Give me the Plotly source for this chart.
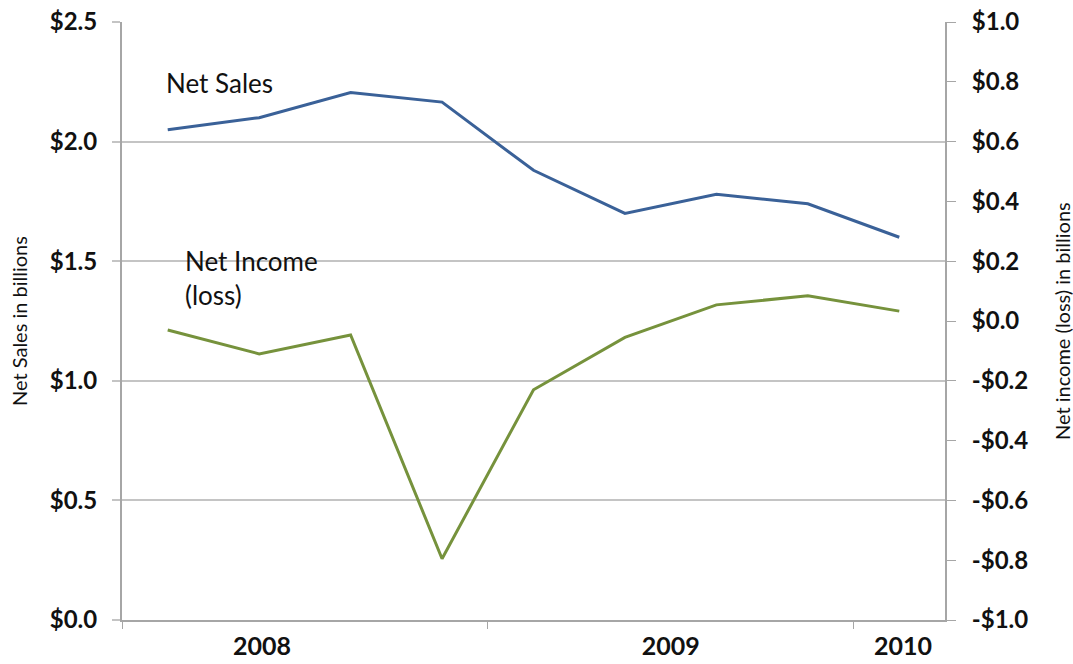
import plotly.graph_objects as go

# Quarterly results, Q1 2008 through Q1 2010
quarters = ["Q1 2008", "Q2 2008", "Q3 2008", "Q4 2008",
            "Q1 2009", "Q2 2009", "Q3 2009", "Q4 2009", "Q1 2010"]
net_sales = [2.05, 2.10, 2.205, 2.165, 1.88, 1.70, 1.78, 1.74, 1.60]
net_income = [-0.03, -0.11, -0.047, -0.795, -0.23, -0.055, 0.054, 0.084, 0.033]

years = ["2008", "2009", "2010"]
year_positions = [1.03, 5.5, 8.04]
year_bounds = [-0.5, 3.5, 7.5]

left_ticks = [0.0, 0.5, 1.0, 1.5, 2.0, 2.5]
left_text = ["$0.0", "$0.5", "$1.0", "$1.5", "$2.0", "$2.5"]
right_ticks = [-1.0, -0.8, -0.6, -0.4, -0.2, 0.0, 0.2, 0.4, 0.6, 0.8, 1.0]
right_text = ["-$1.0", "-$0.8", "-$0.6", "-$0.4", "-$0.2", "$0.0",
              "$0.2", "$0.4", "$0.6", "$0.8", "$1.0"]

BLUE = "#3A6198"
GREEN = "#76923C"
GRID = "#C4C4C4"
AXIS = "#A6A6A6"
FONT = "Lato"
TEXT = "#111111"

x = list(range(len(quarters)))

fig = go.Figure()
fig.add_trace(go.Scatter(x=x, y=net_sales, mode="lines", name="Net Sales",
                         line=dict(color=BLUE, width=3), yaxis="y"))
fig.add_trace(go.Scatter(x=x, y=net_income, mode="lines", name="Net Income (loss)",
                         line=dict(color=GREEN, width=3), yaxis="y2"))

fig.update_layout(
    width=1073, height=664,
    margin=dict(l=122, r=128, t=22, b=44),
    paper_bgcolor="white", plot_bgcolor="white",
    showlegend=False,
    font=dict(family=FONT, color=TEXT),
    xaxis=dict(
        range=[-0.5, 8.5], tickvals=year_positions, ticktext=years,
        ticks="", showgrid=False, zeroline=False, automargin=False,
        showline=True, linecolor=AXIS, linewidth=2,
        tickfont=dict(size=25, family=FONT, weight="bold"),
        ticklabelstandoff=3,
        minor=dict(tickvals=year_bounds, ticks="outside", ticklen=7,
                   tickcolor=AXIS, tickwidth=1, showgrid=False),
    ),
    yaxis=dict(
        range=[0, 2.5], tickvals=left_ticks, ticktext=left_text,
        showgrid=True, gridcolor=GRID, gridwidth=2, zeroline=False,
        automargin=False,
        showline=True, linecolor=AXIS, linewidth=2,
        ticks="outside", ticklen=8, tickcolor=GRID, tickwidth=2,
        tickfont=dict(size=24, family=FONT, weight="bold"),
        ticklabelstandoff=10,
    ),
    yaxis2=dict(
        range=[-1, 1], tickvals=right_ticks, ticktext=right_text,
        overlaying="y", side="right", showgrid=False, zeroline=False,
        automargin=False,
        showline=True, linecolor=AXIS, linewidth=2,
        ticks="outside", ticklen=9, tickcolor=AXIS, tickwidth=1,
        tickfont=dict(size=24, family=FONT, weight="bold"),
        ticklabelstandoff=11,
    ),
    annotations=[
        dict(text="Net Sales", x=-0.04, y=2.245, xref="x", yref="y",
             xanchor="left", yanchor="middle", showarrow=False,
             font=dict(size=26, family=FONT, color=TEXT)),
        dict(text="Net Income<br>(loss)", x=0.17, y=1.43, xref="x", yref="y",
             xanchor="left", yanchor="middle", align="left", showarrow=False,
             font=dict(size=26, family=FONT, color=TEXT)),
        dict(text="Net Sales in billions", x=19, y=0.5, xref="paper", yref="paper",
             textangle=-90, showarrow=False, xanchor="center", yanchor="middle",
             font=dict(size=20, family=FONT, color=TEXT)),
        dict(text="Net income (loss) in billions", x=1062, y=0.5,
             xref="paper", yref="paper",
             textangle=-90, showarrow=False, xanchor="center", yanchor="middle",
             font=dict(size=20, family=FONT, color=TEXT)),
    ],
)

# Axis-title annotations are positioned in pixels from the page's left edge
plot_w = 1073 - 122 - 128
for ann in fig.layout.annotations:
    if ann.xref == "paper":
        ann.x = (ann.x - 122) / plot_w

fig.write_html("out.html")
